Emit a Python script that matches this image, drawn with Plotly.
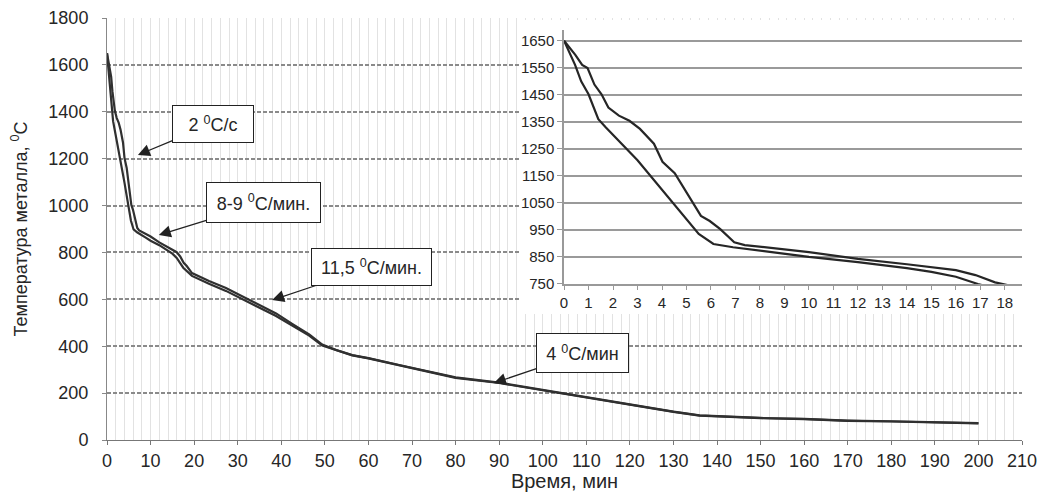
import plotly.graph_objects as go

# ---- data ----
time_a = [0, 0.25, 0.45, 0.7, 1.0, 1.4, 1.7, 3.0, 4.0, 5.0, 5.5, 6.1, 6.9, 8.8, 10, 12, 14, 15, 16,
          16.9, 17.5, 19.5, 23.4, 27.3, 31, 35, 38.8, 42.6, 46.4, 49.4, 52.6, 56.3, 60, 67, 80, 90,
          100, 113, 120, 130, 136, 140, 150, 160, 170, 180, 190, 200]
temp_a = [1650, 1598, 1561, 1500, 1452, 1360, 1330, 1208, 1099, 989, 935, 898, 886, 864, 850, 831, 809, 795, 777,
          750, 735, 700, 666, 636, 601, 564, 529, 487, 445, 403, 382, 361, 348, 318, 265, 243,
          212, 171, 150, 120, 104, 100, 93, 89, 82, 79, 76, 71]

time_b = [0, 0.46, 0.74, 0.96, 1.24, 1.53, 1.81, 2.24, 2.67, 3.1, 3.67, 4.02, 4.52, 5.09, 5.59, 5.95, 6.38,
          6.95, 7.38, 10, 12, 14, 16, 16.8, 17.6, 18.3, 19.5, 23.4, 27.3, 31, 35, 38.8, 42.6, 46.4,
          49.4, 52.6, 56.3, 60, 67, 80, 90, 100, 113, 120, 130, 136, 140, 150, 160, 170, 180, 190, 200]
temp_b = [1650, 1598, 1561, 1549, 1488, 1452, 1403, 1373, 1354, 1324, 1269, 1202, 1160, 1075, 1002, 983, 953,
          904, 894, 868, 843, 823, 801, 783, 756, 742, 712, 678, 648, 613, 576, 540, 494, 450,
          407, 384, 362, 349, 320, 267, 245, 214, 172, 151, 121, 105, 101, 94, 90, 83, 80, 77, 72]

main_xticks = list(range(0, 211, 10))
main_yticks = list(range(0, 1801, 200))
inset_xticks = list(range(0, 19))
inset_yticks = list(range(750, 1651, 100))

rate_labels = ["2 <sup>0</sup>C/с", "8-9 <sup>0</sup>C/мин.", "11,5 <sup>0</sup>C/мин.", "4 <sup>0</sup>C/мин"]
label_w = [78, 111, 117, 89]
label_h = [34, 37, 34, 36]
arrow_x = [7.1, 11.9, 37.9, 88.8]
arrow_y = [1216, 874, 597, 243]
label_dx = [75, 104.5, 99.5, 88.5]
label_dy = [-31, -32.5, -33, -30]

FONT = "Liberation Sans, Arial, sans-serif"
INK = "#262626"

fig = go.Figure()

for t, v in ((time_a, temp_a), (time_b, temp_b)):
    fig.add_trace(go.Scatter(x=t, y=v, mode="lines", line=dict(color="#303030", width=2.2),
                             xaxis="x", yaxis="y", showlegend=False, hoverinfo="skip"))

for t, v in ((time_a, temp_a), (time_b, temp_b)):
    fig.add_trace(go.Scatter(x=t, y=v, mode="lines", line=dict(color="#262626", width=2.2),
                             xaxis="x2", yaxis="y2", showlegend=False, hoverinfo="skip"))

# white backdrop of the inset (covers main grid)
fig.add_shape(type="rect", xref="x", yref="y", x0=94.7, x1=215, y0=537, y1=1792,
              fillcolor="white", line=dict(width=0), layer="between")

for i, txt in enumerate(rate_labels):
    fig.add_annotation(x=arrow_x[i], y=arrow_y[i], xref="x", yref="y", text=txt, showarrow=True,
                       ax=label_dx[i], ay=label_dy[i], arrowhead=2, arrowsize=2.0, arrowwidth=1.2,
                       arrowcolor="#222", standoff=0,
                       width=label_w[i], height=label_h[i],
                       bgcolor="white", bordercolor="#222", borderwidth=1, borderpad=1,
                       font=dict(family=FONT, size=18, color=INK), align="center")

fig.update_layout(
    width=1041, height=484,
    margin=dict(l=99, r=27, t=10, b=52, autoexpand=False),
    paper_bgcolor="white", plot_bgcolor="white",
    font=dict(family=FONT, size=18, color=INK),
    xaxis=dict(range=[0, 210], tickvals=main_xticks, showline=True, linecolor="#777", linewidth=1,
               ticks="outside", ticklen=4, tickcolor="#777", tickfont=dict(size=18),
               showgrid=True, gridcolor="#e2e2e2", gridwidth=1, automargin=False,
               minor=dict(dtick=2, showgrid=True, gridcolor="#e2e2e2", gridwidth=1),
               zeroline=False,
               title=dict(text="Время, мин", font=dict(size=20), standoff=6)),
    yaxis=dict(range=[0, 1800], tickvals=main_yticks, showline=True, linecolor="#888", linewidth=1,
               ticks="outside", ticklen=4, tickcolor="#888", tickfont=dict(size=18),
               ticklabelstandoff=10, automargin=False,
               showgrid=True, gridcolor="#8a8a8a", gridwidth=1.5, griddash="4px,2px", zeroline=False,
               title=dict(text="Температура металла, <sup>0</sup>C", font=dict(size=18), standoff=20)),
    xaxis2=dict(domain=[0.4995, 1.0], anchor="y2", range=[0, 18.7], tickvals=inset_xticks,
                showline=True, linecolor="#999", linewidth=1.5, ticks="outside", ticklen=4,
                tickcolor="#999", tickfont=dict(size=15), showgrid=False, zeroline=False, automargin=False),
    yaxis2=dict(domain=[0.3697, 0.9716], anchor="x2", range=[750, 1690], tickvals=inset_yticks,
                showline=True, linecolor="#999", linewidth=1.5, ticks="outside", ticklen=5,
                tickcolor="#999", tickfont=dict(size=15), showgrid=True, gridcolor="#9a9a9a",
                gridwidth=1.8, zeroline=False, automargin=False),
)

fig.write_html("out.html")
